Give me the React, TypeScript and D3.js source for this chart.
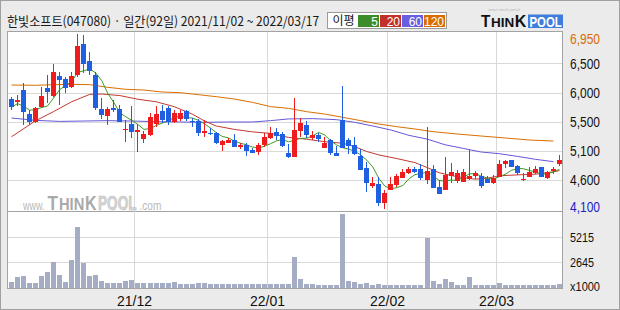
import React from "react";
import * as d3 from "d3";

// ---------- data ----------
const title = "한빛소프트(047080) · 일간(92일) 2021/11/02 ~ 2022/03/17";
const legendTitle = "이평";
const maPeriods = ["5", "20", "60", "120"];
const priceTickLabels = ["6,950", "6,500", "6,000", "5,500", "5,100", "4,600", "4,100"];
const volumeTickValues = [5215, 2645];
const volumeTickLabels = ["5215", "2645"];
const volumeUnitLabel = "x1000";
const monthLabels = ["21/12", "22/01", "22/02", "22/03"];
const monthStartIdx = [21, 43, 63, 81];

const opens = [5890, 5840, 6040, 5650, 5515, 5770, 6080, 5950, 6275, 6215, 6095, 6285, 6790, 6510, 6285, 5730, 5610, 5750, 5730, 5400,
  5490, 5350, 5250, 5310, 5490, 5700, 5740, 5525, 5565, 5700, 5540, 5535, 5345, 5345, 5335, 5145, 5185, 5225, 5110, 5145,
  5065, 5035, 5145, 5255, 5350, 5325, 5010, 4955, 5375, 5470, 5265, 5310, 5100, 5225, 5020, 5555, 5225, 5145, 4965, 4765,
  4480, 4510, 4210, 4415, 4495, 4615, 4695, 4755, 4750, 4575, 4755, 4455, 4415, 4640, 4565, 4550, 4590, 4645, 4640, 4585,
  4535, 4630, 4835, 4900, 4805, 4575, 4630, 4685, 4795, 4605, 4720, 4830];
const highs = [5930, 5960, 6150, 5715, 5770, 6095, 6285, 6460, 6340, 6260, 6340, 6950, 6930, 6665, 6340, 5905, 5770, 5880, 5800, 5555,
  5780, 5480, 5380, 5660, 5780, 5800, 5780, 5715, 5715, 5715, 5580, 5565, 5555, 5415, 5365, 5225, 5255, 5325, 5175, 5175,
  5090, 5175, 5335, 5435, 5430, 5365, 5160, 5905, 5580, 5535, 5375, 5335, 5270, 5240, 5130, 6105, 5255, 5270, 5080, 4875,
  4630, 4630, 4415, 4620, 4670, 4755, 4795, 4795, 4830, 5435, 4820, 4575, 4955, 4850, 4740, 4750, 5065, 4720, 4695, 4640,
  4660, 4900, 4900, 4900, 4820, 4685, 4780, 4805, 4795, 4730, 4795, 4985];
const lows = [5715, 5785, 5470, 5470, 5500, 5740, 5825, 5930, 5795, 6000, 6070, 6255, 6310, 6285, 5715, 5570, 5470, 5690, 5525, 5190,
  5255, 5025, 5175, 5290, 5445, 5500, 5470, 5510, 5540, 5540, 5445, 5290, 5280, 5310, 5155, 5055, 5175, 5110, 5075, 4965,
  5010, 4985, 5120, 5240, 5225, 5110, 4940, 4955, 5270, 5255, 5225, 5190, 5090, 4985, 4965, 5090, 5000, 4985, 4740, 4375,
  4440, 4155, 4100, 4415, 4455, 4605, 4675, 4695, 4575, 4510, 4450, 4350, 4415, 4535, 4535, 4540, 4575, 4585, 4450, 4520,
  4510, 4620, 4765, 4780, 4660, 4565, 4620, 4675, 4630, 4590, 4675, 4805];
const closes = [5760, 5880, 5690, 5525, 5740, 5940, 6015, 6340, 6200, 6070, 6270, 6760, 6460, 6355, 5740, 5640, 5730, 5715, 5525, 5410,
  5350, 5390, 5325, 5595, 5650, 5555, 5525, 5660, 5660, 5565, 5515, 5345, 5380, 5320, 5175, 5210, 5225, 5120, 5145, 5055,
  5020, 5140, 5270, 5345, 5290, 5130, 4955, 5390, 5500, 5310, 5310, 5245, 5185, 5020, 4970, 5090, 5130, 5000, 4740, 4535,
  4535, 4210, 4370, 4510, 4645, 4700, 4755, 4710, 4615, 4725, 4450, 4350, 4655, 4700, 4685, 4700, 4640, 4685, 4485, 4530,
  4615, 4835, 4885, 4795, 4695, 4590, 4700, 4750, 4630, 4710, 4755, 4900];
const volumes = [610, 1080, 1185, 540, 540, 1185, 1660, 2675, 1285, 645, 2910, 6230, 2605, 1185, 1285, 745, 540, 540, 540, 675,
  845, 540, 475, 540, 540, 475, 540, 645, 370, 370, 370, 475, 540, 370, 440, 370, 370, 370, 370, 370,
  370, 440, 370, 440, 370, 440, 370, 3180, 950, 440, 440, 340, 270, 340, 340, 7550, 745, 645, 440, 540,
  340, 440, 340, 340, 270, 340, 340, 340, 340, 5110, 745, 440, 950, 645, 340, 340, 1085, 340, 340, 270,
  270, 540, 340, 340, 270, 270, 270, 270, 270, 270, 270, 440];

// moving averages (index, value)
const ma20Idx = [0, 4, 7, 10, 13, 15, 18, 21, 24, 27, 30, 32, 34, 37, 40, 43, 46, 49, 52, 55, 57, 59, 61, 64, 67, 69, 71, 74, 77, 79, 81, 84, 87, 90, 91];
const ma20Val = [5280, 5540, 5690, 5850, 5970, 5975, 5950, 5890, 5850, 5770, 5650, 5540, 5455, 5400, 5360, 5335, 5270, 5240, 5200, 5175, 5120, 5040, 4985, 4925, 4860, 4780, 4695, 4630, 4590, 4605, 4645, 4660, 4670, 4710, 4730];
const ma60Idx = [0, 4, 8, 12, 16, 20, 24, 28, 32, 36, 40, 43, 46, 50, 54, 57, 60, 63, 66, 69, 72, 75, 78, 81, 84, 87, 90];
const ma60Val = [5585, 5547, 5530, 5536, 5542, 5536, 5525, 5520, 5515, 5520, 5520, 5542, 5570, 5575, 5558, 5515, 5455, 5390, 5303, 5243, 5150, 5091, 5032, 5005, 4961, 4913, 4875];
const ma120Idx = [0, 4, 9, 13, 16, 19, 22, 25, 28, 31, 34, 37, 40, 43, 46, 49, 52, 55, 58, 61, 64, 67, 70, 74, 78, 82, 86, 90];
const ma120Val = [6122, 6117, 6133, 6128, 6084, 6052, 6040, 6008, 5997, 5965, 5932, 5894, 5840, 5770, 5742, 5688, 5650, 5596, 5542, 5487, 5444, 5406, 5363, 5325, 5292, 5260, 5227, 5211];

// ---------- styles ----------
const UP = "#ee1c1c";
const DOWN = "#1f5fe2";
const MA_COLORS = ["#3f9a24", "#c23a32", "#6558da", "#dc6e00"];
const LEGEND_COLORS = ["#3d8c2b", "#c2302c", "#6a5ee0", "#d96c00"];
const GRID = "#d9d9d9";
const BORDER = "#a3a3a3";
const VOL = "#a4adc4";
const NUM_FONT = "'Liberation Sans', Arial, sans-serif";
const KR_FONT = "'Noto Sans CJK KR', 'Noto Sans', sans-serif";

// scaled text piece: natural-size glyphs squeezed horizontally by a transform
function Squeezed(props: { x: number; y: number; sx: number; size: number; fill: string; bold?: boolean; stroke?: string; children: string }) {
  const { x, y, sx, size, fill, bold, stroke, children } = props;
  return (
    <text transform={`translate(${x},${y}) scale(${sx},1)`} fontFamily={NUM_FONT} fontSize={size}
      fontWeight={bold ? "bold" : "normal"} fill={fill} stroke={stroke} strokeWidth={stroke ? 0.6 : 0}>{children}</text>
  );
}

// title fitted to a target width with a horizontal scale measured after layout
function FittedTitle(props: { x: number; y: number; width: number }) {
  const ref = React.useRef<SVGTextElement>(null);
  const [sx, setSx] = React.useState(0.87);
  React.useLayoutEffect(() => {
    const el = ref.current;
    if (!el) return;
    const natural = el.getComputedTextLength();
    if (natural > 0) setSx(props.width / natural);
  }, [props.width]);
  return (
    <text ref={ref} transform={`translate(${props.x},${props.y}) scale(${sx},1)`} fontFamily={KR_FONT} fontSize={13} fill="#1a1a1a">{title}</text>
  );
}

export default function App() {
  const W = 620, H = 310;
  const n = closes.length;
  const idx = d3.range(n);
  const pMax = d3.max(highs) as number;
  const pMin = d3.min(lows) as number;
  const x = d3.scaleBand<number>().domain(idx).range([8, 562]);
  const y = d3.scaleLinear().domain([pMin, pMax]).range([209.3, 34.1]);
  const yv = d3.scaleLinear().domain([0, 7800]).range([288, 212]);
  const px = (i: number) => Math.round(x(i) as number);
  const cx = (i: number) => (x(i) as number) + 3.5;

  const ma5 = closes.map((_, i) => d3.mean(closes.slice(Math.max(0, i - 4), i + 1)) as number);
  const line = d3.line<[number, number]>().x(d => cx(d[0])).y(d => y(d[1]));
  const maSeries: [number, number][][] = [
    ma5.map((v, i) => [i, v]),
    ma20Idx.map((i, k) => [i, ma20Val[k]]),
    ma60Idx.map((i, k) => [i, ma60Val[k]]),
    ma120Idx.map((i, k) => [i, ma120Val[k]]),
  ];

  const priceStep = (pMax - pMin) / 6;
  const priceTicks = d3.range(7).map(k => pMax - k * priceStep);

  return (
    <div style={{ position: "fixed", left: 0, top: 0 }}>
      <svg width={W} height={H} style={{ display: "block" }}>
        <defs>
          <clipPath id="plotClip">
            <rect x={8} y={32} width={554} height={180} />
          </clipPath>
        </defs>
        <rect x={0.5} y={0.5} width={W - 1} height={H - 1} fill="#ebebeb" stroke="#a0a0a0" />

        {/* title */}
        <FittedTitle x={7} y={25.5} width={312} />

        {/* legend */}
        <rect x={327.5} y={12.5} width={119} height={16} fill="#fff" stroke="#9a9a9a" />
        <text x={332.5} y={25} fontFamily={KR_FONT} fontSize={12} fill="#111">{legendTitle}</text>
        {maPeriods.map((p, k) => {
          const bx = [358, 380, 402, 424][k];
          return (
            <g key={p}>
              <rect x={bx} y={15} width={21} height={12} fill={LEGEND_COLORS[k]} />
              <text x={bx + 20} y={25.5} textAnchor="end" fontFamily={NUM_FONT} fontSize={12} fill="#fff">{p}</text>
            </g>
          );
        })}

        {/* logo */}
        <text x={488} y={10.5} fontFamily={NUM_FONT} fontSize={4} fill="#b8b8b8">smart stock portal</text>
        <Squeezed x={481} y={26.8} sx={0.95} size={16} fill="#111" bold>T</Squeezed>
        <Squeezed x={491} y={26.8} sx={1.08} size={12.5} fill="#111" bold>HIN</Squeezed>
        <Squeezed x={514.8} y={26.8} sx={1.0} size={16} fill="#111" bold>K</Squeezed>
        <rect x={528} y={14.5} width={35} height={13.5} fill="#3e7ddb" />
        <Squeezed x={529.5} y={26.5} sx={0.76} size={15} fill="#fff" bold>POOL</Squeezed>

        {/* plot backgrounds */}
        <rect x={7.5} y={31.5} width={555} height={257} fill="#fff" stroke={BORDER} />
        <line x1={7.5} x2={562.5} y1={211.5} y2={211.5} stroke={BORDER} />

        {/* price grid */}
        {priceTicks.slice(1, 6).map((v, k) => (
          <line key={k} x1={8} x2={562} y1={Math.round(y(v)) + 0.5} y2={Math.round(y(v)) + 0.5} stroke={GRID} />
        ))}
        {/* volume grid */}
        {volumeTickValues.map(v => (
          <line key={v} x1={8} x2={562} y1={Math.round(yv(v)) + 0.5} y2={Math.round(yv(v)) + 0.5} stroke={GRID} />
        ))}
        {/* month grid */}
        {monthStartIdx.map(i => (
          <line key={i} x1={px(i) + 0.5} x2={px(i) + 0.5} y1={32} y2={288} stroke={GRID} />
        ))}

        {/* watermark */}
        <Squeezed x={23} y={210} sx={0.75} size={12} fill="#b9b9b9">www.</Squeezed>
        <Squeezed x={47.5} y={210} sx={0.85} size={20} fill="#a9a9a9" bold>T</Squeezed>
        <Squeezed x={59} y={210} sx={0.92} size={16} fill="#a9a9a9" bold>HIN</Squeezed>
        <Squeezed x={85} y={210} sx={0.8} size={20} fill="#a9a9a9" bold>K</Squeezed>
        <Squeezed x={98} y={210} sx={0.68} size={20} fill="#d4d4d4" bold stroke="#bdbdbd">POOL</Squeezed>
        <Squeezed x={139.5} y={210} sx={0.84} size={12} fill="#b9b9b9">.com</Squeezed>

        {/* moving averages */}
        <g clipPath="url(#plotClip)" fill="none">
          {[3, 2, 1, 0].map(k => (
            <path key={k} d={line(maSeries[k]) as string} stroke={MA_COLORS[k]} strokeWidth={1} />
          ))}
        </g>

        {/* candles */}
        <g>
          {idx.map(i => {
            const o = opens[i], c = closes[i];
            const col = c >= o ? UP : DOWN;
            const bt = Math.round(y(Math.max(o, c)));
            const bb = Math.round(y(Math.min(o, c)));
            const wt = Math.round(y(highs[i]));
            const wb = Math.round(y(lows[i]));
            return (
              <g key={i}>
                <rect x={px(i) + 3} y={wt} width={1} height={Math.max(1, wb - wt)} fill={col} />
                <rect x={px(i) + 1} y={bt} width={5} height={Math.max(1, bb - bt)} fill={col} />
              </g>
            );
          })}
        </g>

        {/* volume bars */}
        <g>
          {idx.map(i => {
            const t = Math.round(yv(volumes[i]));
            return <rect key={i} x={px(i) + 1} y={t} width={5} height={288 - t} fill={VOL} />;
          })}
        </g>

        {/* price axis labels */}
        {priceTickLabels.map((lab, k) => {
          const yy = Math.max(38.5, Math.min(206.5, y(priceTicks[k])));
          const fill = k === 0 ? "#d86a00" : k === 6 ? "#1a22c8" : "#111";
          return (
            <text key={lab} x={570} y={yy + 5.3} fontFamily={NUM_FONT} fontSize={15} fill={fill} textLength={30} lengthAdjust="spacingAndGlyphs">{lab}</text>
          );
        })}
        {/* volume axis labels */}
        {volumeTickLabels.map((lab, k) => (
          <text key={lab} x={570} y={yv(volumeTickValues[k]) + 4.6} fontFamily={NUM_FONT} fontSize={12.5} fill="#111" textLength={24} lengthAdjust="spacingAndGlyphs">{lab}</text>
        ))}
        <text x={570} y={290.5} fontFamily={NUM_FONT} fontSize={12.5} fill="#111" textLength={30} lengthAdjust="spacingAndGlyphs">{volumeUnitLabel}</text>

        {/* month labels */}
        {monthLabels.map((lab, k) => (
          <text key={lab} x={px(monthStartIdx[k]) + 0.5 - 17.5} y={305.5} fontFamily={NUM_FONT} fontSize={15} fill="#111" textLength={35} lengthAdjust="spacingAndGlyphs">{lab}</text>
        ))}
      </svg>
    </div>
  );
}
